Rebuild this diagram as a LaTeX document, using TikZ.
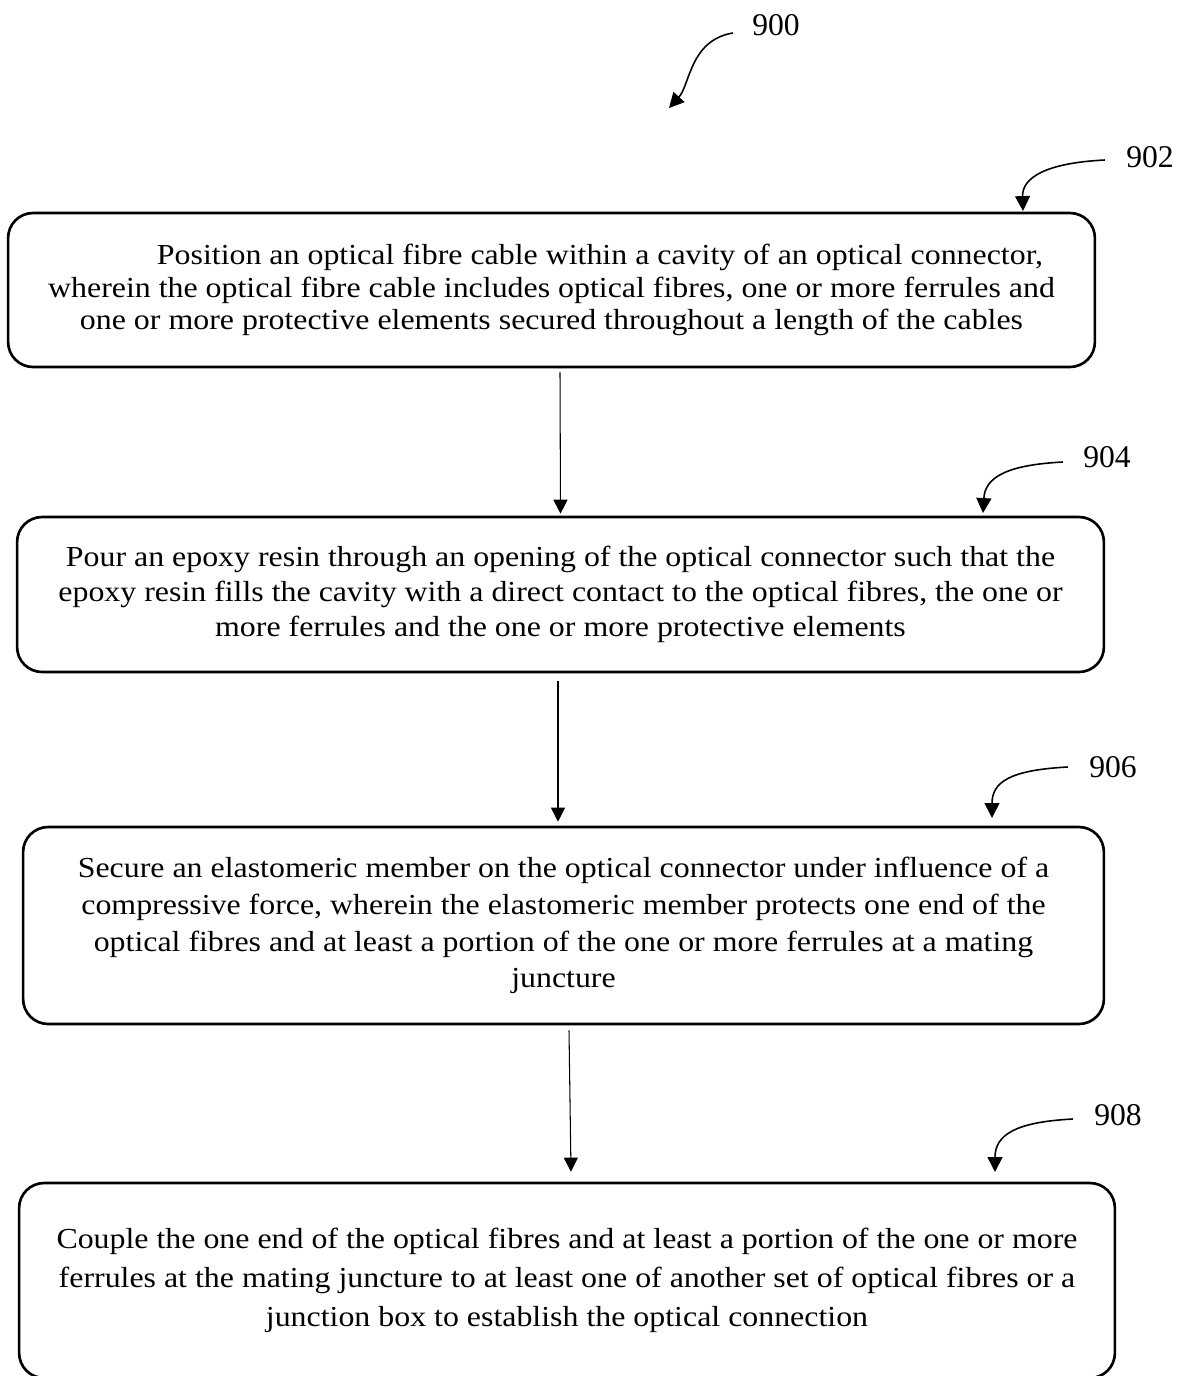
\documentclass[tikz,border=0pt]{standalone}
\usepackage{fontspec}
\setmainfont{Liberation Serif}
\newfontfamily\stepfont{Liberation Serif}[FakeStretch=1.1]
\usetikzlibrary{arrows.meta,calc}

\begin{document}
\begin{tikzpicture}[x=0.02cm,y=-0.02cm,
  stepbox/.style={draw,line width=1.5pt,rounded corners=0.5cm,align=center,inner sep=0pt,font=\stepfont\fontsize{16.5}{18.7}\selectfont},
  flow/.style={line width=0.6pt,-{Triangle[length=8pt,width=8pt]}},
  leader/.style={line width=0.9pt,-{Triangle[length=8.5pt,width=8.5pt]}},
  reflabel/.style={inner sep=0pt,font=\fontsize{18}{20}\selectfont}]
\path[use as bounding box] (0,0) rectangle (1190,1376);
% steps
\node[stepbox,minimum width=21.74cm,minimum height=3.08cm] (b1) at (551.5,290) {\hspace*{1.94cm}Position an optical fibre cable within a cavity of an optical connector,\\ wherein the optical fibre cable includes optical fibres, one or more ferrules and\\ one or more protective elements secured throughout a length of the cables};
\node[stepbox,minimum width=21.74cm,minimum height=3.1cm,font=\stepfont\fontsize{16.5}{19.8}\selectfont] (b2) at (560.5,594.5) {Pour an epoxy resin through an opening of the optical connector such that the\\ epoxy resin fills the cavity with a direct contact to the optical fibres, the one or\\ more ferrules and the one or more protective elements};
\node[stepbox,minimum width=21.62cm,minimum height=3.94cm,font=\stepfont\fontsize{16.5}{21}\selectfont] (b3) at (563.5,925.5) {Secure an elastomeric member on the optical connector under influence of a\\ compressive force, wherein the elastomeric member protects one end of the\\ optical fibres and at least a portion of the one or more ferrules at a mating\\ juncture};
\node[stepbox,minimum width=21.92cm,minimum height=3.9cm,font=\stepfont\fontsize{16.5}{22}\selectfont] (b4) at (567,1280.5) {Couple the one end of the optical fibres and at least a portion of the one or more\\ ferrules at the mating juncture to at least one of another set of optical fibres or a\\ junction box to establish the optical connection};
% flow arrows
\draw[flow] ($(b1.south)+(8.5,4)$) -- ($(b2.north)+(0,-2)$);
\draw[flow] ($(b2.south)+(-2.5,8)$) -- ($(b3.north)+(-5.5,-4)$);
\draw[flow] ($(b3.south)+(5.5,5)$) -- ($(b4.north)+(4,-10)$);
% reference numerals
\node[reflabel] (l900) at (776,25) {900};
\node[reflabel] (l902) at (1150,157) {902};
\node[reflabel] (l904) at (1107,457) {904};
\node[reflabel] (l906) at (1113,767) {906};
\node[reflabel] (l908) at (1118,1115) {908};
\coordinate (t900) at (669,108);
\coordinate (t902) at (1023,211);
\coordinate (t904) at (983,513);
\coordinate (t906) at (992,818);
\coordinate (t908) at (995,1172);
\draw[leader] ($(l900.west)+(-19,8)$) .. controls (690,40) and (690,85) .. (t900);
\draw[leader] ($(l902.west)+(-21,3)$) .. controls (1045,163) and (1022,178) .. (t902);
\draw[leader] ($(l904.west)+(-20,5)$) .. controls (1005,465) and (985,478) .. (t904);
\draw[leader] ($(l906.west)+(-21,0)$) .. controls (1010,770) and (992,782) .. (t906);
\draw[leader] ($(l908.west)+(-21,4)$) .. controls (1015,1122) and (995,1135) .. (t908);
\end{tikzpicture}
\end{document}
